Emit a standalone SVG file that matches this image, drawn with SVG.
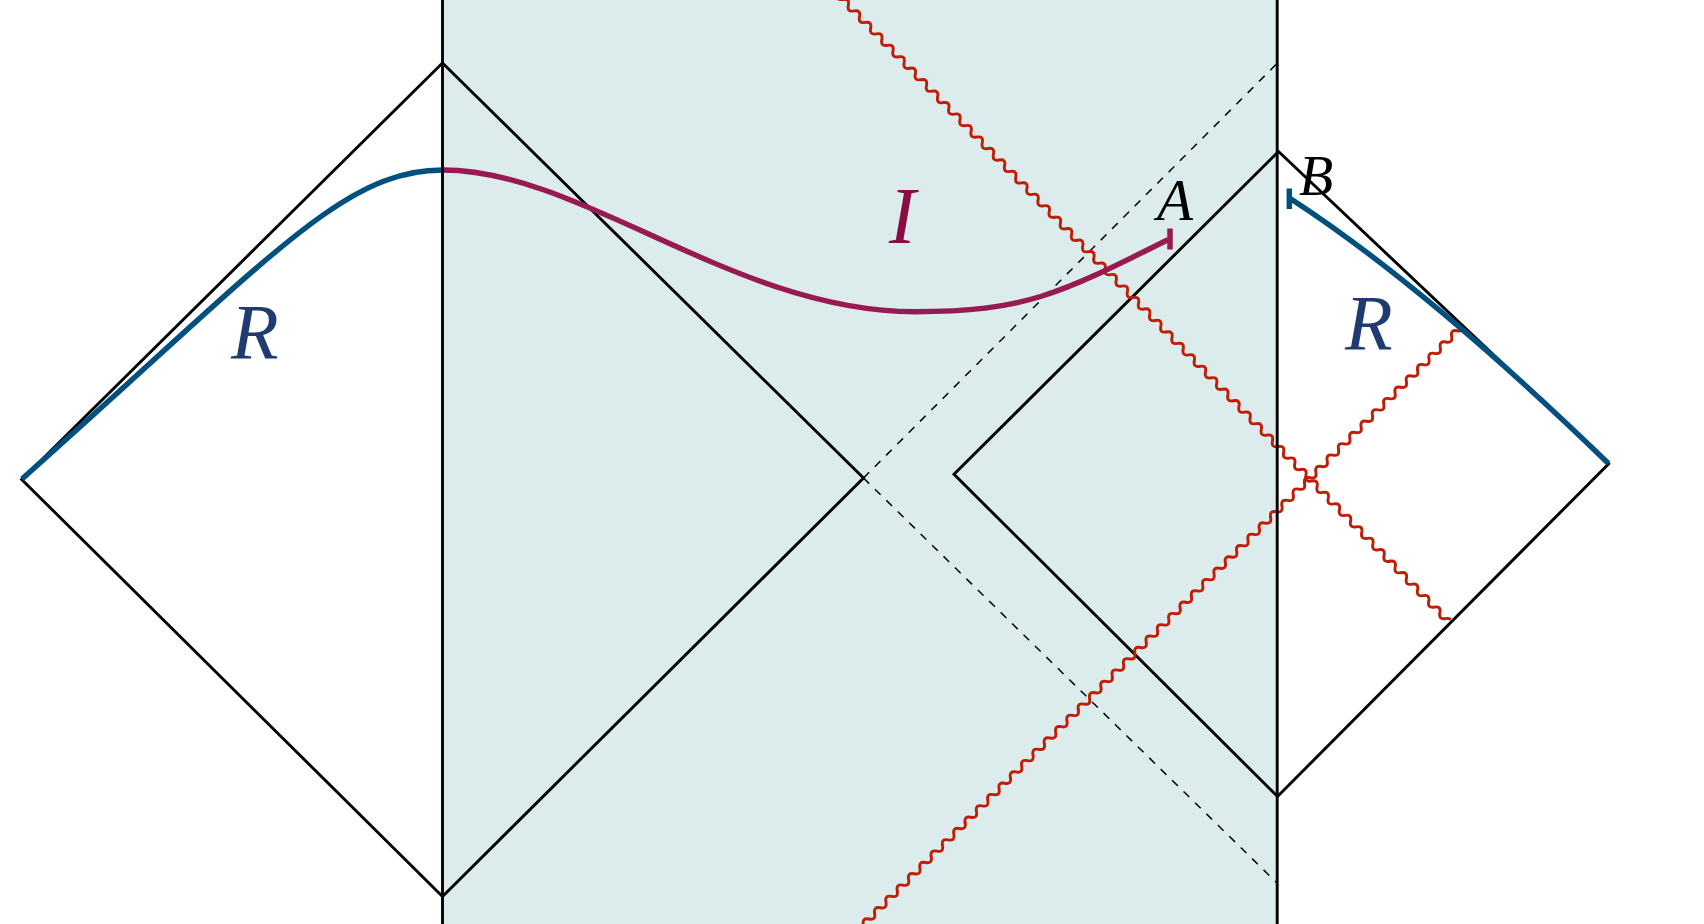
<svg xmlns="http://www.w3.org/2000/svg" xmlns:xlink="http://www.w3.org/1999/xlink" width="1704" height="924" viewBox="0 0 1704 924">
<style>
.edge{fill:none;stroke:#000;stroke-width:2.9;stroke-linejoin:miter}
.dash{fill:none;stroke:#000;stroke-width:1.5;stroke-dasharray:8 8}
.wave{fill:none;stroke:#c01c06;stroke-width:2.9;stroke-linecap:round;stroke-linejoin:round}
.blue{fill:none;stroke:#00507f;stroke-width:5.4}
.purple{fill:none;stroke:#981a52;stroke-width:5.4}
.lbl{font-family:"Liberation Serif","Times New Roman",serif;font-style:italic}
</style>
<defs>
<path id="w" d="M0,0q4,-6 8,0t8,0t8,0t8,0t8,0t8,0t8,0t8,0t8,0t8,0t8,0t8,0t8,0t8,0t8,0t8,0t8,0t8,0t8,0t8,0"/>
<clipPath id="c1"><rect x="-3" y="-10" width="887.5" height="20"/></clipPath>
<clipPath id="c2"><rect x="-3" y="-10" width="864" height="20"/></clipPath>
</defs>
<rect width="1704" height="924" fill="#fff"/>
<rect id="interior" x="442.5" y="0" width="834.7" height="924" fill="#dcecec"/>

<g id="left-diagram">
<polygon class="edge" points="21.7,479.5 442.5,63 863.5,478 442.5,896.5"/>
</g>
<g id="right-diagram">
<polygon class="edge" points="1278.5,151.5 1608.7,463.8 1277.5,796.5 954,474.3"/>
</g>

<g id="connectors">
<line class="dash" x1="863.5" y1="478" x2="1277.5" y2="63"/>
<line class="dash" x1="863.5" y1="478" x2="1277.5" y2="883.5"/>
<g transform="translate(831.6,-12) rotate(45.77)">
<g class="wave" clip-path="url(#c1)">
<use xlink:href="#w" x="0"/><use xlink:href="#w" x="160"/><use xlink:href="#w" x="320"/><use xlink:href="#w" x="480"/><use xlink:href="#w" x="640"/><use xlink:href="#w" x="800"/>
</g>
</g>
<g transform="translate(852,936) rotate(-45)">
<g class="wave" clip-path="url(#c2)">
<use xlink:href="#w" x="0"/><use xlink:href="#w" x="160"/><use xlink:href="#w" x="320"/><use xlink:href="#w" x="480"/><use xlink:href="#w" x="640"/><use xlink:href="#w" x="800"/>
</g>
</g>
<path class="blue" d="M22,479 C272,256.5 342.8,170 442.8,170"/>
<path class="purple" d="M442.8,170 C582.8,170 734.7,311.7 914.7,311.7 C1024.7,311.7 1059.5,294 1168,239.7"/>
<line x1="1170" y1="228.5" x2="1170" y2="249.5" stroke="#981a52" stroke-width="5.5"/>
<path class="blue" d="M1291,199 Q1426.7,287.2 1608.5,463.5"/>
<line x1="1289.3" y1="188.5" x2="1289.3" y2="209" stroke="#00507f" stroke-width="5.5"/>
</g>

<g id="boundaries">
<line class="edge" x1="442.5" y1="0" x2="442.5" y2="924"/>
<line class="edge" x1="1277.2" y1="0" x2="1277.2" y2="924"/>
</g>

<g id="labels">
<text class="lbl" x="231" y="358" font-size="78" fill="#1f3b6f">R</text>
<text class="lbl" x="1345" y="349" font-size="78" fill="#1f3b6f">R</text>
<text class="lbl" x="889" y="243" font-size="80" fill="#8a0c45">I</text>
<text class="lbl" x="1157" y="220" font-size="59" fill="#000">A</text>
<text class="lbl" x="1299" y="195" font-size="56" fill="#000">B</text>
</g>
</svg>
